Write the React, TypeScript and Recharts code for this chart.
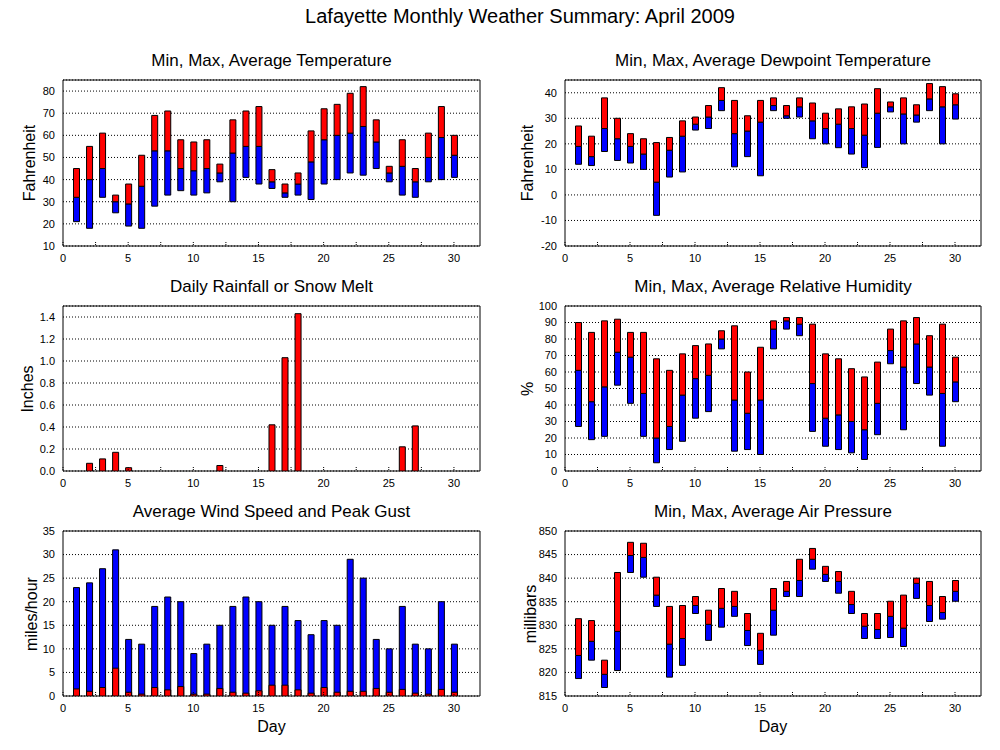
import React from 'react';
import { ComposedChart, Bar, XAxis, YAxis, CartesianGrid, ReferenceArea } from 'recharts';

const days = [1, 2, 3, 4, 5, 6, 7, 8, 9, 10, 11, 12, 13, 14, 15, 16, 17, 18, 19, 20, 21, 22, 23, 24, 25, 26, 27, 28, 29, 30];
const xTicks = [0, 2.5, 5, 7.5, 10, 12.5, 15, 17.5, 20, 22.5, 25, 27.5, 30];

const tempMin = [21, 18, 32, 25, 19, 18, 28, 33, 35, 33, 34, 39, 30, 41, 38, 36, 32, 33, 31, 38, 40, 43, 42, 45, 39, 33, 32, 39, 40, 41];
const tempAvg = [32, 40, 45, 30, 29, 37, 53, 53, 45, 44, 45, 43, 52, 55, 55, 39, 34, 38, 48, 58, 60, 61, 64, 57, 43, 46, 39, 50, 59, 51];
const tempMax = [45, 55, 61, 33, 38, 51, 69, 71, 58, 57, 58, 47, 67, 71, 73, 44.5, 38, 43, 62, 72, 74, 79, 82, 67, 46, 58, 45, 61, 73, 60];
const tempTicks = [10, 20, 30, 40, 50, 60, 70, 80];

const dewMin = [12, 11.5, 17, 13.5, 12.5, 10, -8, 7, 9, 25.4, 26, 33, 11, 15, 7.5, 33, 30, 30.5, 22, 20, 18.5, 16, 10.7, 18.6, 32.5, 20, 28.5, 33, 20, 29.7];
const dewAvg = [19, 15, 26, 22, 19, 16, 5, 17.5, 23, 27.7, 30.5, 37, 24, 25, 28.5, 35, 31, 34.5, 29, 26, 27.7, 26, 23.4, 32, 34.5, 31.7, 31.3, 37.6, 34.5, 35.3];
const dewMax = [27, 23, 38, 30, 24, 22, 20.5, 22.5, 29, 30.5, 35, 42, 37, 31, 37, 38, 35, 38, 36, 32, 33.7, 34.5, 35.6, 41.6, 36.4, 38, 35.3, 43.6, 42.4, 39.6];
const dewTicks = [-20, -10, 0, 10, 20, 30, 40];

const rain = [0, 0.07, 0.11, 0.17, 0.03, 0, 0, 0, 0, 0, 0, 0.05, 0, 0, 0, 0.42, 1.03, 1.43, 0, 0, 0, 0, 0, 0, 0, 0.22, 0.41, 0, 0, 0];
const rainTicks = [0, 0.2, 0.4, 0.6, 0.8, 1.0, 1.2, 1.4];

const humMin = [27, 19, 21, 52, 41, 21, 5, 13, 18, 32, 36, 74, 12, 13, 10, 74, 86, 82, 24, 15, 13, 11, 7, 22, 65, 25, 53, 46, 15, 42];
const humAvg = [61, 42, 51, 72, 69, 47, 20, 27, 46, 56, 58, 80, 43, 35, 43, 86, 91, 89, 53, 32, 34, 30, 25, 41, 73, 63, 77, 63, 47, 54];
const humMax = [90, 84, 91, 92, 84, 84, 68, 61, 71, 76, 77, 85, 88, 60, 75, 91, 93, 93, 89, 71, 68, 62, 57, 66, 86, 91, 93, 82, 89, 69];
const humTicks = [0, 10, 20, 30, 40, 50, 60, 70, 80, 90, 100];

const windGust = [23, 24, 27, 31, 12, 11, 19, 21, 20, 9, 11, 15, 19, 21, 20, 15, 19, 16, 13, 16, 15, 29, 25, 12, 10, 19, 11, 10, 20, 11];
const windAvg = [1.5, 1.0, 1.8, 5.9, 0.8, 0.4, 1.8, 1.3, 2.0, 0.4, 0.4, 1.6, 0.8, 0.6, 1.1, 2.3, 2.3, 1.3, 0.6, 1.8, 0.8, 1.0, 1.0, 1.6, 0.8, 1.4, 0.6, 0.4, 1.4, 0.8];
const windTicks = [0, 5, 10, 15, 20, 25, 30, 35];

const presMin = [818.7, 822.6, 816.8, 820.4, 841.2, 840.2, 834.0, 819.0, 821.5, 832.5, 826.8, 829.6, 831.9, 825.7, 821.7, 827.9, 836.1, 836.1, 841.9, 839.3, 836.8, 832.5, 827.2, 827.2, 827.4, 825.5, 835.7, 830.8, 831.3, 835.1];
const presAvg = [823.6, 826.6, 819.6, 828.7, 844.8, 844.4, 836.4, 826.0, 827.2, 834.2, 830.2, 833.6, 834.0, 828.9, 824.7, 833.2, 837.2, 839.5, 844.0, 840.8, 839.3, 834.4, 829.8, 829.1, 831.9, 829.4, 838.9, 834.2, 832.7, 837.2];
const presMax = [831.4, 831.0, 822.6, 841.2, 847.6, 847.4, 840.2, 834.0, 834.2, 836.1, 833.2, 837.8, 837.2, 832.5, 828.3, 837.8, 839.3, 844.0, 846.3, 842.5, 841.4, 837.2, 832.5, 832.5, 835.1, 836.4, 840.0, 839.3, 836.1, 839.5];
const presTicks = [815, 820, 825, 830, 835, 840, 845, 850];

const FONT = "'Liberation Sans', Arial, Helvetica, sans-serif";
const RED = '#ff0000';
const BLUE = '#0000ff';

const rangeRows = (mins: number[], avgs: number[], maxs: number[]) =>
  days.map((d, i) => ({ day: d, lo: [mins[i], avgs[i]], hi: [avgs[i], maxs[i]] }));

const tempData = rangeRows(tempMin, tempAvg, tempMax);
const dewData = rangeRows(dewMin, dewAvg, dewMax);
const humData = rangeRows(humMin, humAvg, humMax);
const presData = rangeRows(presMin, presAvg, presMax);
const rainData = days.map((d, i) => ({ day: d, rain: rain[i] }));
const windData = days.map((d, i) => ({ day: d, gust: windGust[i], avg: windAvg[i] }));

type Series = { key: string; color: string; axis: number | string };

const rangeSeries: Series[] = [
  { key: 'lo', color: BLUE, axis: 0 },
  { key: 'hi', color: RED, axis: 't' },
];

type PanelProps = {
  left: number;
  top: number;
  width: number;
  height: number;
  yWidth: number;
  data: any[];
  series: Series[];
  yDomain: [number, number];
  yTicks: number[];
  yFmt?: (v: number) => string;
};

const xFmt = (v: number) => (v % 5 === 0 ? String(v) : '');

function Panel({ left, top, width, height, yWidth, data, series, yDomain, yTicks, yFmt }: PanelProps) {
  const tickStyle = { fill: '#000', fontSize: 11, fontFamily: FONT };
  const tickLineStyle = { stroke: '#000', strokeDasharray: '1 1' };
  return (
    <div style={{ position: 'absolute', left, top }}>
      <ComposedChart width={width} height={height} data={data} margin={{ top: 10, right: 10, bottom: 0, left: 0 }}>
        <CartesianGrid vertical={false} stroke="#000" strokeDasharray="1 2" />
        <XAxis
          type="number"
          dataKey="day"
          domain={[0, 32]}
          ticks={xTicks}
          interval={0}
          allowDataOverflow
          tickFormatter={xFmt}
          tickSize={-4}
          tickMargin={12}
          axisLine={false}
          tickLine={tickLineStyle}
          tick={tickStyle}
          height={30}
        />
        <XAxis
          xAxisId="t"
          orientation="top"
          type="number"
          dataKey="day"
          domain={[0, 32]}
          ticks={xTicks}
          interval={0}
          allowDataOverflow
          tick={false}
          tickSize={-4}
          axisLine={false}
          tickLine={tickLineStyle}
          height={0}
        />
        <YAxis
          type="number"
          domain={yDomain}
          ticks={yTicks}
          interval={0}
          allowDataOverflow
          width={yWidth}
          axisLine={false}
          tickLine={false}
          tickSize={6}
          tickMargin={2}
          tick={tickStyle}
          tickFormatter={yFmt}
        />
        {series.map((s) => (
          <Bar
            key={s.key}
            dataKey={s.key}
            xAxisId={s.axis}
            fill={s.color}
            stroke="#000"
            strokeWidth={1}
            barSize={6}
            isAnimationActive={false}
          />
        ))}
        <ReferenceArea x1={0} x2={32} y1={yDomain[0]} y2={yDomain[1]} fill="none" fillOpacity={0} stroke="#000" strokeWidth={1} />
      </ComposedChart>
    </div>
  );
}

function Txt({ x, y, size, text, rotate }: { x: number; y: number; size: number; text: string; rotate?: boolean }) {
  return (
    <div
      style={{
        position: 'absolute',
        left: x,
        top: y,
        transform: `translate(-50%, -50%)${rotate ? ' rotate(-90deg)' : ''}`,
        fontFamily: FONT,
        fontSize: size,
        lineHeight: 1,
        whiteSpace: 'nowrap',
        color: '#000',
      }}
    >
      {text}
    </div>
  );
}

export default function App() {
  const L = { left: 0, width: 490, yWidth: 63 };
  const R = { left: 500, width: 491, yWidth: 65 };
  const rows = [
    { top: 70, height: 206 },
    { top: 296, height: 205 },
    { top: 521, height: 205 },
  ];
  const lc = 271.5;
  const rc = 773;
  return (
    <div style={{ position: 'absolute', left: 0, top: 0, width: 1000, height: 750, background: '#fff', overflow: 'hidden' }}>
      <Txt x={520} y={16} size={20} text="Lafayette Monthly Weather Summary: April 2009" />

      <Txt x={lc} y={60} size={17} text="Min, Max, Average Temperature" />
      <Txt x={rc} y={60} size={17} text="Min, Max, Average Dewpoint Temperature" />
      <Txt x={lc} y={286} size={17} text="Daily Rainfall or Snow Melt" />
      <Txt x={rc} y={286} size={17} text="Min, Max, Average Relative Humidity" />
      <Txt x={lc} y={511} size={17} text="Average Wind Speed and Peak Gust" />
      <Txt x={rc} y={511} size={17} text="Min, Max, Average Air Pressure" />

      <Txt x={30} y={163} size={16} text="Fahrenheit" rotate />
      <Txt x={528} y={163} size={16} text="Fahrenheit" rotate />
      <Txt x={27.5} y={389} size={16} text="Inches" rotate />
      <Txt x={528} y={389} size={16} text="%" rotate />
      <Txt x={32} y={614} size={16} text="miles/hour" rotate />
      <Txt x={531} y={614} size={16} text="millibars" rotate />
      <Txt x={lc} y={727} size={16} text="Day" />
      <Txt x={rc} y={727} size={16} text="Day" />

      <Panel {...L} {...rows[0]} data={tempData} series={rangeSeries} yDomain={[10, 85]} yTicks={tempTicks} />
      <Panel {...R} {...rows[0]} data={dewData} series={rangeSeries} yDomain={[-20, 45]} yTicks={dewTicks} />
      <Panel
        {...L}
        {...rows[1]}
        data={rainData}
        series={[{ key: 'rain', color: RED, axis: 0 }]}
        yDomain={[0, 1.5]}
        yTicks={rainTicks}
        yFmt={(v: number) => v.toFixed(1)}
      />
      <Panel {...R} {...rows[1]} data={humData} series={rangeSeries} yDomain={[0, 100]} yTicks={humTicks} />
      <Panel
        {...L}
        {...rows[2]}
        data={windData}
        series={[
          { key: 'gust', color: BLUE, axis: 0 },
          { key: 'avg', color: RED, axis: 't' },
        ]}
        yDomain={[0, 35]}
        yTicks={windTicks}
      />
      <Panel {...R} {...rows[2]} data={presData} series={rangeSeries} yDomain={[815, 850]} yTicks={presTicks} />
    </div>
  );
}
